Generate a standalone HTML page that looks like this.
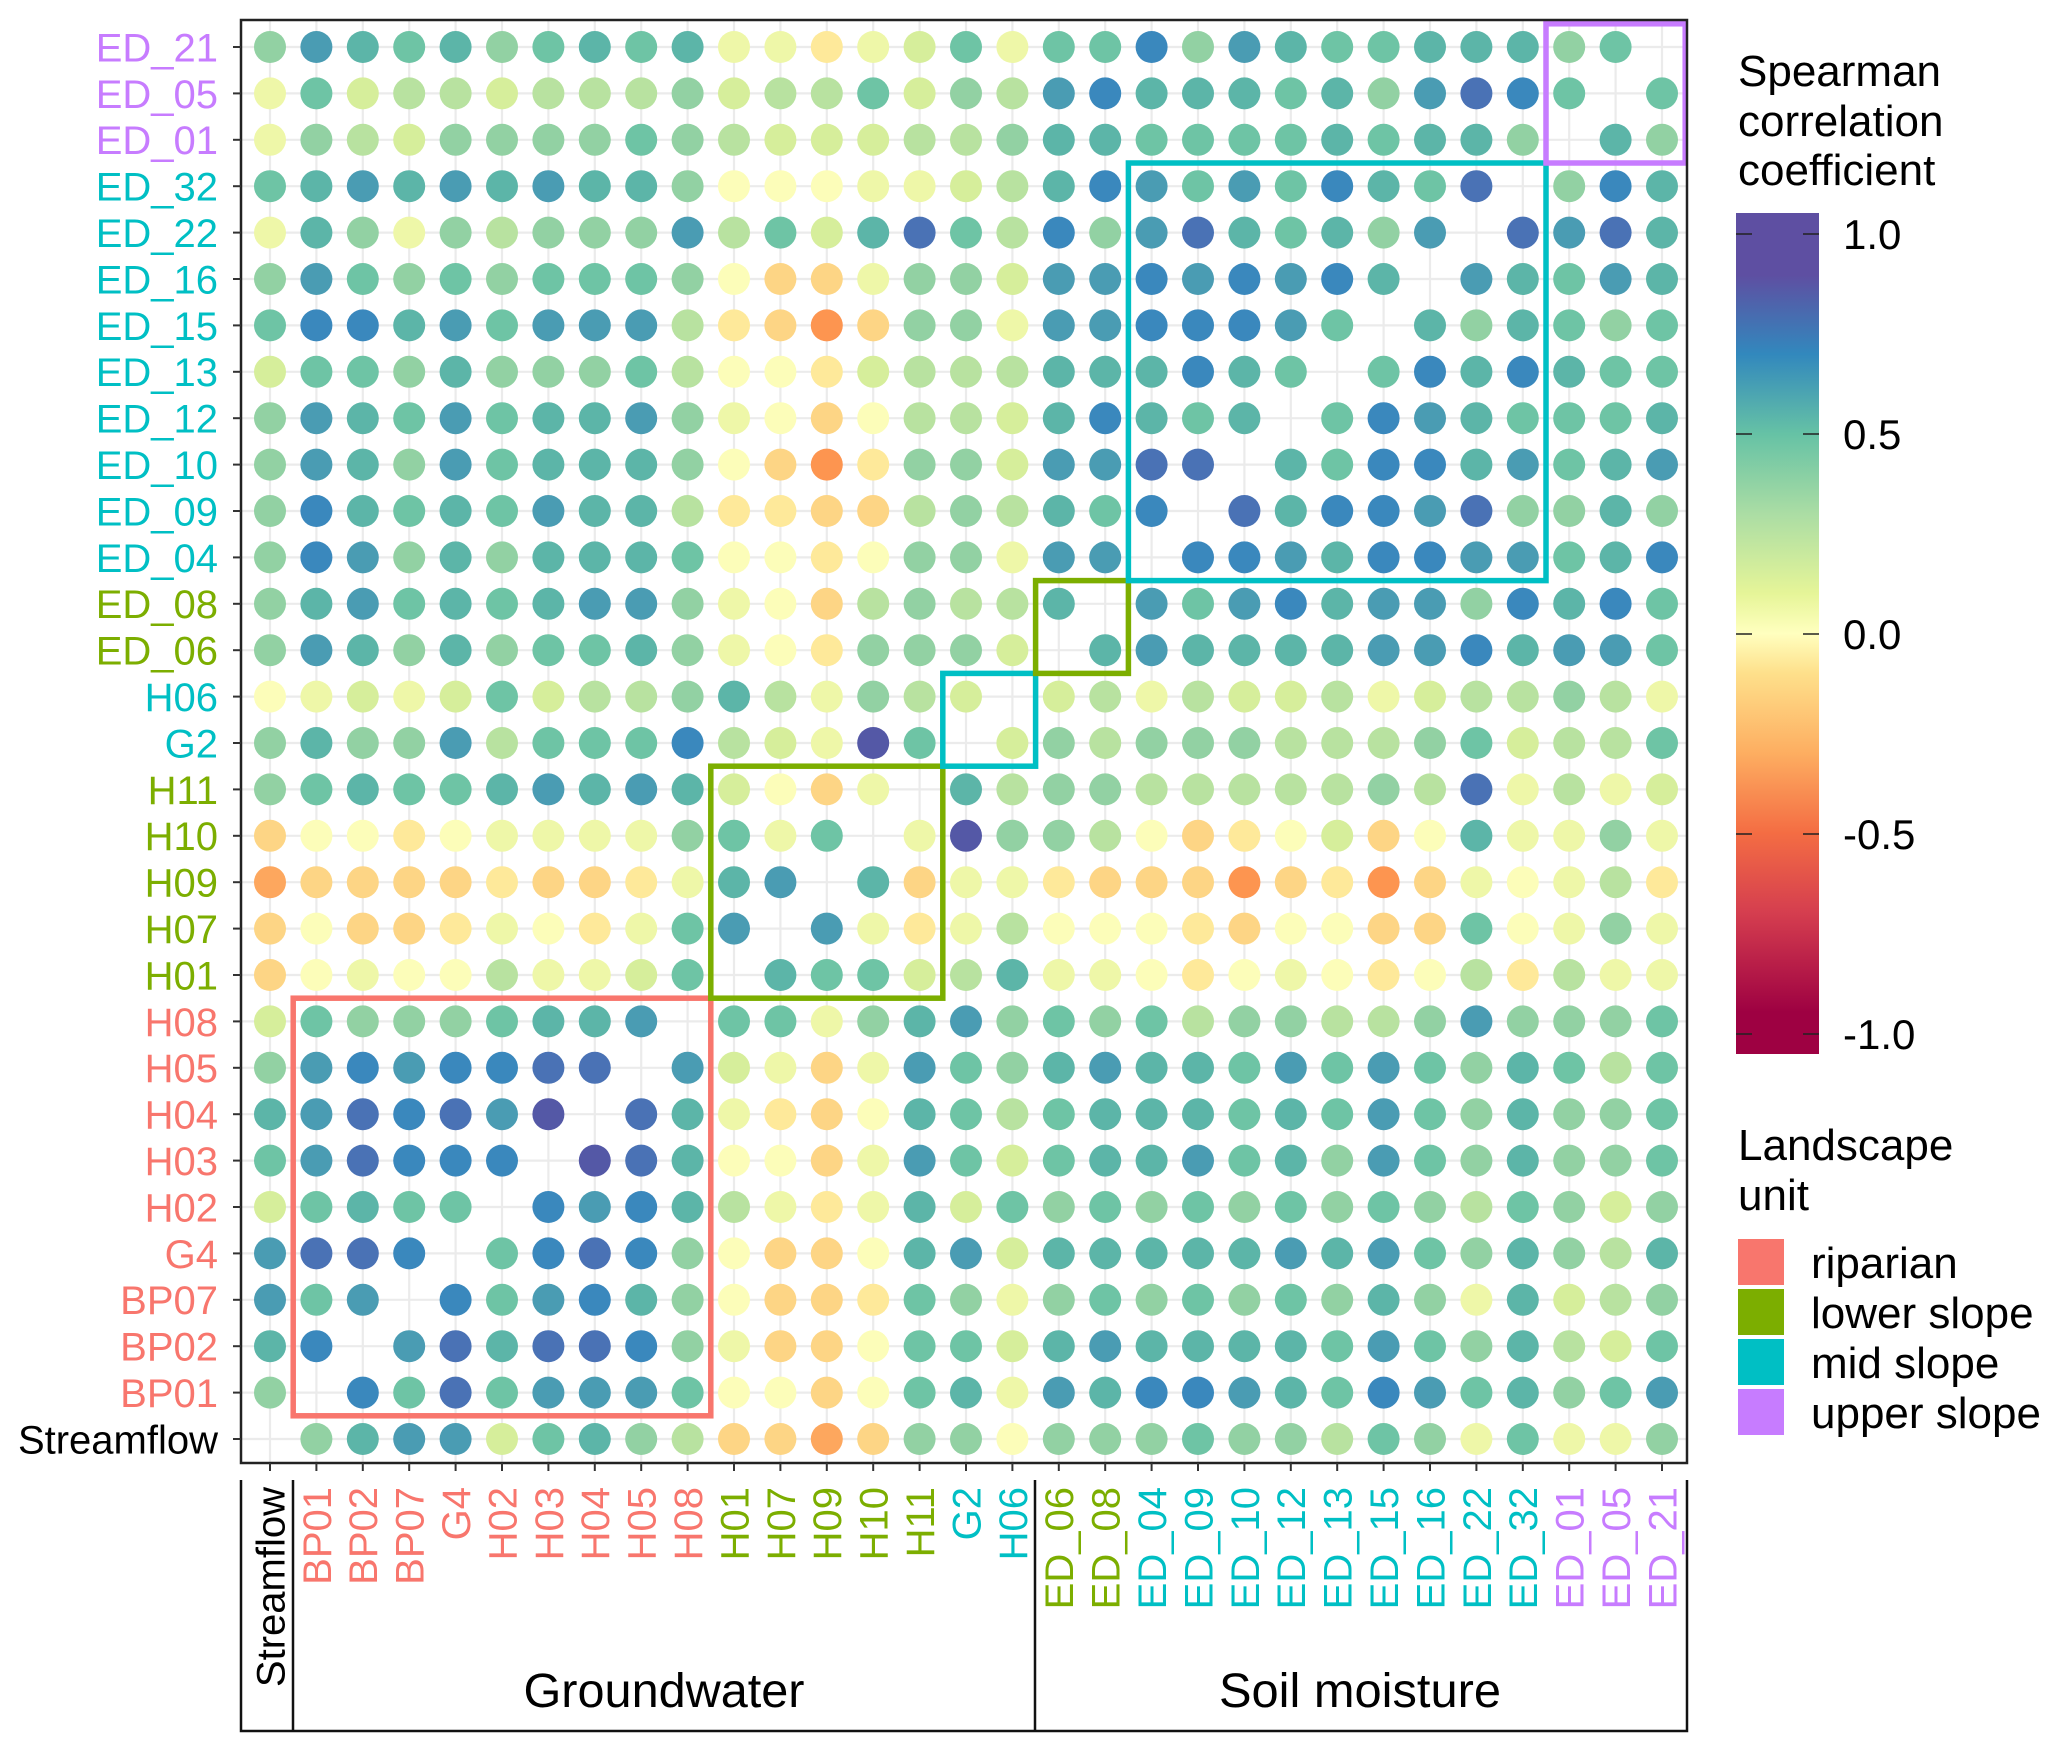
<!DOCTYPE html>
<html><head><meta charset="utf-8"><title>Spearman correlation matrix</title>
<style>
html,body{margin:0;padding:0;background:#fff;}
svg{display:block;font-family:"Liberation Sans",Arial,sans-serif;}
</style></head>
<body>
<svg id="chart" xmlns="http://www.w3.org/2000/svg" width="2067" height="1752" viewBox="0 0 2067 1752">
<rect x="0" y="0" width="2067" height="1752" fill="#fff"/>
<g id="grid"></g>
<g id="dots"></g>
<g id="boxes"></g>
<rect x="241" y="20" width="1446" height="1443" fill="none" stroke="#222" stroke-width="2.5"/>
<g id="ylabels"></g>
<g id="xlabels"></g>
<g stroke="#111" stroke-width="2.5" fill="none">
<polyline points="241,1480 241,1731 1687,1731 1687,1480"/>
<line x1="293" y1="1480" x2="293" y2="1731"/>
<line x1="1035" y1="1480" x2="1035" y2="1731"/>
</g>
<text x="664" y="1707" font-size="48" text-anchor="middle" textLength="281" lengthAdjust="spacingAndGlyphs" fill="#000">Groundwater</text>
<text x="1360" y="1707" font-size="48" text-anchor="middle" textLength="282" lengthAdjust="spacingAndGlyphs" fill="#000">Soil moisture</text>
<g id="legend">
<text x="1738" y="86" font-size="44" fill="#000">Spearman</text>
<text x="1738" y="136" font-size="44" fill="#000">correlation</text>
<text x="1738" y="185" font-size="44" fill="#000">coefficient</text>
<defs><linearGradient id="spec" x1="0" y1="0" x2="0" y2="1">
<stop offset="0" stop-color="#5e4fa2"/><stop offset="0.074" stop-color="#5e4fa2"/>
<stop offset="0.168" stop-color="#3288bd"/><stop offset="0.263" stop-color="#66c2a5"/>
<stop offset="0.358" stop-color="#abdda4"/><stop offset="0.453" stop-color="#e6f598"/>
<stop offset="0.5" stop-color="#ffffbf"/><stop offset="0.547" stop-color="#fee08b"/>
<stop offset="0.642" stop-color="#fdae61"/><stop offset="0.737" stop-color="#f46d43"/>
<stop offset="0.832" stop-color="#d53e4f"/><stop offset="0.95" stop-color="#9e0142"/>
<stop offset="1" stop-color="#9e0142"/></linearGradient></defs>
<rect x="1736" y="213" width="83" height="841" fill="url(#spec)"/>
<g id="cbticks"></g>
<text x="1738" y="1160" font-size="44" fill="#000">Landscape</text>
<text x="1738" y="1210" font-size="44" fill="#000">unit</text>
<g id="unitkeys"></g>
</g>
</svg>
<script>
const variables = ["Streamflow","BP01","BP02","BP07","G4","H02","H03","H04","H05","H08","H01","H07","H09","H10","H11","G2","H06","ED_06","ED_08","ED_04","ED_09","ED_10","ED_12","ED_13","ED_15","ED_16","ED_22","ED_32","ED_01","ED_05","ED_21"];
const riparianVars = ["BP01","BP02","BP07","G4","H02","H03","H04","H05","H08"];
const lowerSlopeVars = ["H01","H07","H09","H10","H11","ED_06","ED_08"];
const midSlopeVars = ["G2","H06","ED_04","ED_09","ED_10","ED_12","ED_13","ED_15","ED_16","ED_22","ED_32"];
const upperSlopeVars = ["ED_01","ED_05","ED_21"];
const colorbarTicks = [1.0, 0.5, 0.0, -0.5, -1.0];
const colorbarTickLabels = ["1.0","0.5","0.0","-0.5","-1.0"];
const unitNames = ["riparian","lower slope","mid slope","upper slope"];
const unitColors = ["#f8766d","#7cae00","#00bfc4","#c77cff"];
// Row values (columns in the order of `variables`); null = not shown
const rowED_21 = [.4,.7,.6,.5,.6,.4,.5,.6,.5,.6,.1,.1,-.15,.1,.2,.5,.1,.5,.5,.8,.4,.7,.6,.5,.5,.6,.6,.6,.4,.5,null];
const rowED_05 = [.1,.5,.2,.3,.3,.2,.3,.3,.3,.4,.2,.3,.3,.5,.2,.4,.3,.7,.8,.6,.6,.6,.5,.6,.4,.7,.9,.8,.5,null,.5];
const rowED_01 = [.1,.4,.3,.2,.4,.4,.4,.4,.5,.4,.3,.2,.2,.2,.3,.3,.4,.6,.6,.5,.5,.5,.5,.6,.5,.6,.6,.4,null,.6,.4];
const rowED_32 = [.5,.6,.7,.6,.7,.6,.7,.6,.6,.4,0,0,0,.1,.1,.2,.3,.6,.8,.7,.5,.7,.5,.8,.6,.5,.9,null,.4,.8,.6];
const rowED_22 = [.1,.6,.4,.1,.4,.3,.4,.4,.4,.7,.3,.5,.2,.6,.9,.5,.3,.8,.4,.7,.9,.6,.5,.6,.4,.7,null,.9,.7,.9,.6];
const rowED_16 = [.4,.7,.5,.4,.5,.4,.5,.5,.5,.4,0,-.25,-.25,.1,.4,.4,.2,.7,.7,.8,.7,.8,.7,.8,.6,null,.7,.6,.5,.7,.6];
const rowED_15 = [.5,.8,.8,.6,.7,.5,.7,.7,.7,.3,-.15,-.25,-.45,-.25,.4,.4,.1,.7,.7,.8,.8,.8,.7,.5,null,.6,.4,.6,.5,.4,.5];
const rowED_13 = [.2,.5,.5,.4,.6,.4,.4,.4,.5,.3,0,0,-.15,.2,.3,.3,.3,.6,.6,.6,.8,.6,.5,null,.5,.8,.6,.8,.6,.5,.5];
const rowED_12 = [.4,.7,.6,.5,.7,.5,.6,.6,.7,.4,.1,0,-.25,0,.3,.3,.2,.6,.8,.6,.5,.6,null,.5,.8,.7,.6,.5,.5,.5,.6];
const rowED_10 = [.4,.7,.6,.4,.7,.5,.6,.6,.6,.4,0,-.25,-.45,-.15,.4,.4,.2,.7,.7,.9,.9,null,.6,.5,.8,.8,.6,.7,.5,.6,.7];
const rowED_09 = [.4,.8,.6,.5,.6,.5,.7,.6,.6,.3,-.15,-.15,-.25,-.25,.3,.4,.3,.6,.5,.8,null,.9,.6,.8,.8,.7,.9,.4,.4,.6,.4];
const rowED_04 = [.4,.8,.7,.4,.6,.4,.6,.6,.6,.5,0,0,-.15,0,.4,.4,.1,.7,.7,null,.8,.8,.7,.6,.8,.8,.7,.7,.5,.6,.8];
const rowED_08 = [.4,.6,.7,.5,.6,.5,.6,.7,.7,.4,.1,0,-.25,.3,.4,.3,.3,.6,null,.7,.5,.7,.8,.6,.7,.7,.4,.8,.6,.8,.5];
const rowED_06 = [.4,.7,.6,.4,.6,.4,.5,.5,.6,.4,.1,0,-.15,.4,.4,.4,.2,null,.6,.7,.6,.6,.6,.6,.7,.7,.8,.6,.7,.7,.5];
const rowH06 = [0,.1,.2,.1,.2,.5,.2,.3,.3,.4,.6,.3,.1,.4,.3,.2,null,.2,.3,.1,.3,.2,.2,.3,.1,.2,.3,.3,.4,.3,.1];
const rowG2 = [.4,.6,.4,.4,.7,.3,.5,.5,.5,.8,.3,.2,.1,1,.5,null,.2,.4,.3,.4,.4,.4,.3,.3,.3,.4,.5,.2,.3,.3,.5];
const rowH11 = [.4,.5,.6,.5,.5,.6,.7,.6,.7,.6,.2,0,-.25,.1,null,.6,.3,.4,.4,.3,.3,.3,.3,.3,.4,.3,.9,.1,.3,.1,.2];
const rowH10 = [-.25,0,0,-.15,0,.1,.1,.1,.1,.4,.5,.1,.5,null,.1,1,.4,.4,.3,0,-.25,-.15,0,.2,-.25,0,.6,.1,.1,.4,.1];
const rowH09 = [-.4,-.25,-.25,-.25,-.25,-.15,-.25,-.25,-.15,.1,.6,.7,null,.6,-.25,.1,.1,-.15,-.25,-.25,-.25,-.45,-.25,-.15,-.45,-.25,.1,0,.1,.3,-.15];
const rowH07 = [-.25,0,-.25,-.25,-.15,.1,0,-.15,.1,.5,.7,null,.7,.1,-.15,.1,.3,0,0,0,-.15,-.25,0,0,-.25,-.25,.5,0,.1,.4,.1];
const rowH01 = [-.25,0,.1,0,0,.3,.1,.1,.2,.5,null,.6,.5,.5,.2,.3,.6,.1,.1,0,-.15,0,.1,0,-.15,0,.3,-.15,.3,.1,.1];
const rowH08 = [.2,.5,.4,.4,.4,.5,.6,.6,.7,null,.5,.5,.1,.4,.6,.7,.4,.5,.4,.5,.3,.4,.4,.3,.3,.4,.7,.4,.4,.4,.5];
const rowH05 = [.4,.7,.8,.7,.8,.8,.9,.9,null,.7,.2,.1,-.25,.1,.7,.5,.4,.6,.7,.6,.6,.5,.7,.5,.7,.5,.4,.6,.5,.3,.5];
const rowH04 = [.6,.7,.9,.8,.9,.7,1,null,.9,.6,.1,-.15,-.25,0,.6,.5,.3,.5,.6,.6,.6,.5,.6,.5,.7,.5,.4,.6,.4,.4,.5];
const rowH03 = [.5,.7,.9,.8,.8,.8,null,1,.9,.6,0,0,-.25,.1,.7,.5,.2,.5,.6,.6,.7,.5,.6,.4,.7,.5,.4,.6,.4,.4,.5];
const rowH02 = [.2,.5,.6,.5,.5,null,.8,.7,.8,.6,.3,.1,-.15,.1,.6,.2,.5,.4,.5,.4,.5,.4,.5,.4,.5,.4,.3,.5,.4,.2,.4];
const rowG4 = [.7,.9,.9,.8,null,.5,.8,.9,.8,.4,0,-.25,-.25,0,.6,.7,.2,.6,.6,.6,.6,.6,.7,.6,.7,.5,.4,.6,.4,.3,.6];
const rowBP07 = [.7,.5,.7,null,.8,.5,.7,.8,.6,.4,0,-.25,-.25,-.15,.5,.4,.1,.4,.5,.4,.5,.4,.5,.4,.6,.4,.1,.6,.2,.3,.4];
const rowBP02 = [.6,.8,null,.7,.9,.6,.9,.9,.8,.4,.1,-.25,-.25,0,.5,.5,.2,.6,.7,.6,.6,.6,.6,.5,.7,.5,.4,.6,.3,.2,.5];
const rowBP01 = [.4,null,.8,.5,.9,.5,.7,.7,.7,.5,0,0,-.25,0,.5,.6,.1,.7,.6,.8,.8,.7,.6,.5,.8,.7,.5,.6,.4,.5,.7];
const rowStreamflow = [null,.4,.6,.7,.7,.2,.5,.6,.4,.3,-.25,-.25,-.4,-.25,.4,.4,0,.4,.4,.4,.5,.4,.4,.3,.5,.4,.1,.5,.1,.1,.4];

const rowNames = ["ED_21","ED_05","ED_01","ED_32","ED_22","ED_16","ED_15","ED_13","ED_12","ED_10","ED_09","ED_04","ED_08","ED_06","H06","G2","H11","H10","H09","H07","H01","H08","H05","H04","H03","H02","G4","BP07","BP02","BP01","Streamflow"];
const rowValues = [rowED_21,rowED_05,rowED_01,rowED_32,rowED_22,rowED_16,rowED_15,rowED_13,rowED_12,rowED_10,rowED_09,rowED_04,rowED_08,rowED_06,rowH06,rowG2,rowH11,rowH10,rowH09,rowH07,rowH01,rowH08,rowH05,rowH04,rowH03,rowH02,rowG4,rowBP07,rowBP02,rowBP01,rowStreamflow];

const NS = "http://www.w3.org/2000/svg";
const X0 = 270, DX = 46.4, Y0 = 47, DY = 46.4, R = 16;
function xPos(i){ return X0 + i*DX; }
function yPos(j){ return Y0 + j*DY; }
function cbY(v){ return 634 - 400*v; }
const stopsV = [-1,-0.8,-0.6,-0.45,-0.3,-0.15,0,0.1,0.2,0.3,0.4,0.5,0.6,0.7,0.8,0.9,1.0];
const stopsC = ["#9e0142","#d53e4f","#f46d43","#fd9550","#fdcb7a","#fee99a","#fcfdb9","#eef7a8","#d6ee9b","#b8e2a0","#92d1a3","#6ec4a5","#5cb5a8","#4a9cb3","#3a88bd","#4a72b5","#5458a6"];
function hex(c){ return [parseInt(c.substr(1,2),16),parseInt(c.substr(3,2),16),parseInt(c.substr(5,2),16)]; }
function colorOf(v){
  v = Math.max(-1, Math.min(1, v));
  for (let k=0;k<stopsV.length-1;k++){
    if (v <= stopsV[k+1]){
      const t = (v - stopsV[k])/(stopsV[k+1]-stopsV[k]);
      const a = hex(stopsC[k]), b = hex(stopsC[k+1]);
      const m = a.map((x,i)=>Math.round(x+(b[i]-x)*t));
      return "rgb("+m.join(",")+")";
    }
  }
  return stopsC[stopsC.length-1];
}
function unitColor(name){
  if (riparianVars.includes(name)) return unitColors[0];
  if (lowerSlopeVars.includes(name)) return unitColors[1];
  if (midSlopeVars.includes(name)) return unitColors[2];
  if (upperSlopeVars.includes(name)) return unitColors[3];
  return "#000";
}
function mk(tag, attrs, parent){
  const el = document.createElementNS(NS, tag);
  for (const k in attrs) el.setAttribute(k, attrs[k]);
  parent.appendChild(el);
  return el;
}
const grid = document.getElementById("grid");
variables.forEach((v,i)=>{
  const l = mk("line",{x1:xPos(i),x2:xPos(i),y1:20,y2:1463,stroke:"#ebebeb","stroke-width":2.2},grid);
  
  
});
rowNames.forEach((v,j)=>{
  const l = mk("line",{x1:241,x2:1687,y1:yPos(j),y2:yPos(j),stroke:"#ebebeb","stroke-width":2.2},grid);
  
  
});
const dots = document.getElementById("dots");
rowValues.forEach((row,j)=>{
  row.forEach((val,i)=>{
    if (val === null) return;
    const c = mk("circle",{cx:xPos(i),cy:yPos(j),r:R,fill:colorOf(val)},dots);
    
    
  });
});
const boxes = document.getElementById("boxes");
const boxGroups = [[riparianVars,0],[["H01","H07","H09","H10","H11"],1],[["G2","H06"],2],[["ED_06","ED_08"],1],[["ED_04","ED_09","ED_10","ED_12","ED_13","ED_15","ED_16","ED_22","ED_32"],2],[upperSlopeVars,3]];
boxGroups.forEach(g=>{
  const idx = g[0].map(n=>variables.indexOf(n));
  const a = Math.min(...idx), b = Math.max(...idx);
  const ra = rowNames.indexOf(variables[b]), rb = rowNames.indexOf(variables[a]);
  const r = mk("rect",{x:xPos(a)-DX/2,y:yPos(ra)-DY/2,width:(b-a+1)*DX,height:(rb-ra+1)*DY,fill:"none",stroke:unitColors[g[1]],"stroke-width":5.5},boxes);
  
  
});
const yl = document.getElementById("ylabels");
rowNames.forEach((n,j)=>{
  const t = mk("line",{x1:233,x2:241,y1:yPos(j),y2:yPos(j),stroke:"#333","stroke-width":2},yl);
  
  
  const tx = mk("text",{x:218,y:yPos(j),dy:"0.36em","text-anchor":"end","font-size":40,fill:unitColor(n)},yl);
  tx.textContent = n;
  
  
});
const xl = document.getElementById("xlabels");
variables.forEach((n,i)=>{
  const t = mk("line",{x1:xPos(i),x2:xPos(i),y1:1463,y2:1471,stroke:"#333","stroke-width":2},xl);
  
  
  const tx = mk("text",{x:0,y:0,dy:"0.36em","text-anchor":"end","font-size":40,fill:unitColor(n),transform:"translate("+xPos(i)+",1487) rotate(-90)"},xl);
  tx.textContent = n;
  
  
});
const cbt = document.getElementById("cbticks");
colorbarTicks.forEach((v,k)=>{
  const y = cbY(v);
  const l1 = mk("line",{x1:1736,x2:1752,y1:y,y2:y,stroke:"#222","stroke-width":1.5},cbt);
  
  
  const l2 = mk("line",{x1:1803,x2:1819,y1:y,y2:y,stroke:"#222","stroke-width":1.5},cbt);
  
  
  const tx = mk("text",{x:1843,y:y,dy:"0.36em","font-size":42,fill:"#000"},cbt);
  tx.textContent = colorbarTickLabels[k];
  
  
});
const uk = document.getElementById("unitkeys");
unitNames.forEach((n,k)=>{
  const y = 1239 + k*50;
  const r = mk("rect",{x:1738,y:y,width:46,height:46,fill:unitColors[k]},uk);
  
  
  const tx = mk("text",{x:1811,y:y+23,dy:"0.36em","font-size":44,fill:"#000"},uk);
  tx.textContent = n;
  
  
});
</script>
</body></html>
